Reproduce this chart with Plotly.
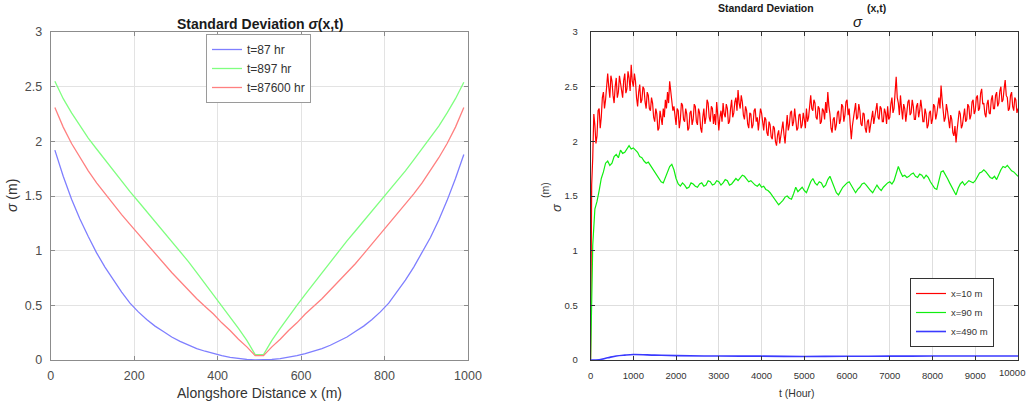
import plotly.graph_objects as go

W, H = 1026, 403

# ---------------- Left panel data: sigma vs alongshore distance ----------------
x_pos = list(range(10, 1000, 20))  # 10 .. 990 m

sig_t87 = [1.92, 1.68, 1.47, 1.29, 1.13, 0.98, 0.85, 0.73, 0.62, 0.52,
           0.44, 0.37, 0.31, 0.26, 0.21, 0.17, 0.135, 0.105, 0.08, 0.058,
           0.04, 0.025, 0.013, 0.005, 0.0,
           0.0, 0.005, 0.013, 0.025, 0.04, 0.058, 0.08, 0.105, 0.135, 0.17,
           0.21, 0.26, 0.31, 0.37, 0.44, 0.52, 0.62, 0.73, 0.85, 0.98,
           1.12, 1.28, 1.46, 1.66, 1.88]

sig_t897 = [2.55, 2.39, 2.26, 2.14, 2.03, 1.93, 1.83, 1.73, 1.63, 1.54,
            1.45, 1.36, 1.27, 1.18, 1.09, 1.00, 0.90, 0.80, 0.70, 0.60,
            0.50, 0.40, 0.29, 0.18, 0.05,
            0.05, 0.18, 0.29, 0.40, 0.50, 0.60, 0.70, 0.80, 0.90, 1.00,
            1.09, 1.18, 1.27, 1.36, 1.45, 1.54, 1.63, 1.73, 1.83, 1.93,
            2.03, 2.14, 2.26, 2.39, 2.54]

sig_t87600 = [2.31, 2.13, 1.98, 1.85, 1.73, 1.62, 1.52, 1.42, 1.33, 1.24,
              1.15, 1.06, 0.97, 0.88, 0.80, 0.72, 0.64, 0.56, 0.49, 0.42,
              0.34, 0.27, 0.19, 0.12, 0.04,
              0.04, 0.12, 0.19, 0.27, 0.34, 0.42, 0.49, 0.56, 0.64, 0.72,
              0.80, 0.88, 0.97, 1.06, 1.15, 1.24, 1.33, 1.42, 1.52, 1.62,
              1.73, 1.85, 1.98, 2.13, 2.31]

left_names = ["t=87 hr", "t=897 hr", "t=87600 hr"]
left_colors = ["#7f7fff", "#80ff80", "#ff8080"]
left_xticks = [0, 200, 400, 600, 800, 1000]
y_ticks = [0, 0.5, 1, 1.5, 2, 2.5, 3]
y_ticklabels = ["0", "0.5", "1", "1.5", "2", "2.5", "3"]

# ---------------- Right panel data: sigma vs time ----------------
# x = 10 m, sampled every 25 hours
sig_x10 = [0.0, 1.60, 1.85, 2.25, 2.15, 1.98, 2.05, 2.28, 2.30, 2.12,
           2.22, 2.40, 2.45, 2.30, 2.38, 2.55, 2.62, 2.50, 2.40, 2.60,
           2.55, 2.42, 2.35, 2.50, 2.58, 2.40, 2.45, 2.60, 2.52, 2.45,
           2.40, 2.56, 2.62, 2.44, 2.48, 2.64, 2.58, 2.46, 2.70, 2.55,
           2.50, 2.62, 2.55, 2.40, 2.32, 2.45, 2.52, 2.35, 2.38, 2.50,
           2.48, 2.36, 2.30, 2.45, 2.42, 2.30, 2.28, 2.40, 2.35, 2.22,
           2.18, 2.30, 2.25, 2.10, 2.12, 2.28, 2.22, 2.15, 2.30, 2.22,
           2.38, 2.30, 2.45, 2.35, 2.55, 2.45, 2.40, 2.28, 2.32, 2.22,
           2.15, 2.30, 2.28, 2.12, 2.20, 2.35, 2.33, 2.20, 2.18, 2.30,
           2.25, 2.10, 2.12, 2.26, 2.28, 2.15, 2.20, 2.34, 2.32, 2.18,
           2.15, 2.30, 2.26, 2.12, 2.08, 2.22, 2.30, 2.16, 2.22, 2.38,
           2.35, 2.22, 2.18, 2.32, 2.30, 2.16, 2.25, 2.15, 2.36, 2.24,
           2.10, 2.22, 2.28, 2.18, 2.35, 2.25, 2.22, 2.34, 2.30, 2.16,
           2.18, 2.30, 2.38, 2.22, 2.26, 2.36, 2.40, 2.28, 2.47, 2.35,
           2.30, 2.42, 2.36, 2.24, 2.20, 2.32, 2.28, 2.16, 2.12, 2.26,
           2.25, 2.12, 2.15, 2.28, 2.30, 2.18, 2.22, 2.10, 2.18, 2.30,
           2.26, 2.16, 2.10, 2.22, 2.20, 2.08, 2.05, 2.18, 2.15, 2.04,
           2.02, 2.14, 2.12, 2.00, 1.96, 2.06, 2.10, 1.98, 2.05, 2.15,
           2.18, 2.06, 1.98, 2.12, 2.24, 2.10, 2.15, 2.26, 2.28, 2.14,
           2.18, 2.30, 2.22, 2.10, 2.12, 2.24, 2.25, 2.12, 2.15, 2.26,
           2.20, 2.12, 2.30, 2.18, 2.22, 2.34, 2.42, 2.30, 2.28, 2.38,
           2.35, 2.22, 2.20, 2.32, 2.30, 2.16, 2.18, 2.30, 2.28, 2.20,
           2.36, 2.26, 2.45, 2.32, 2.25, 2.12, 2.08, 2.20, 2.22, 2.10,
           2.15, 2.26, 2.28, 2.16, 2.20, 2.34, 2.32, 2.18, 2.24, 2.36,
           2.38, 2.24, 2.30, 2.15, 2.02, 2.14, 2.20, 2.30, 2.35, 2.20,
           2.22, 2.34, 2.28, 2.16, 2.14, 2.26, 2.25, 2.12, 2.08, 2.18,
           2.20, 2.08, 2.15, 2.26, 2.28, 2.16, 2.22, 2.32, 2.35, 2.22,
           2.20, 2.32, 2.30, 2.18, 2.18, 2.30, 2.26, 2.16, 2.32, 2.20,
           2.22, 2.34, 2.40, 2.26, 2.30, 2.45, 2.59, 2.40, 2.35, 2.24,
           2.42, 2.30, 2.20, 2.34, 2.30, 2.18, 2.25, 2.36, 2.38, 2.24,
           2.26, 2.38, 2.32, 2.20, 2.20, 2.32, 2.35, 2.22, 2.28, 2.38,
           2.30, 2.18, 2.18, 2.30, 2.25, 2.12, 2.15, 2.26, 2.28, 2.16,
           2.20, 2.34, 2.32, 2.20, 2.25, 2.36, 2.40, 2.30, 2.51, 2.38,
           2.30, 2.18, 2.22, 2.34, 2.28, 2.16, 2.12, 2.24, 2.20, 2.08,
           2.05, 2.14, 1.99, 2.10, 2.18, 2.28, 2.25, 2.12, 2.15, 2.26,
           2.30, 2.18, 2.20, 2.34, 2.32, 2.20, 2.24, 2.36, 2.38, 2.25,
           2.28, 2.40, 2.42, 2.28, 2.30, 2.44, 2.48, 2.34, 2.35, 2.25,
           2.22, 2.34, 2.38, 2.26, 2.25, 2.38, 2.42, 2.30, 2.30, 2.42,
           2.45, 2.32, 2.35, 2.46, 2.50, 2.36, 2.38, 2.48, 2.56, 2.42,
           2.40, 2.28, 2.30, 2.42, 2.45, 2.32, 2.28, 2.40, 2.38, 2.26,
           2.30]
t_red = [25 * i for i in range(len(sig_x10))]

# x = 90 m, sampled every 50 hours
sig_x90 = [0.0, 1.05, 1.38, 1.45, 1.55, 1.66, 1.72, 1.80, 1.82, 1.78,
           1.80, 1.86, 1.88, 1.85, 1.92, 1.89, 1.90, 1.93, 1.96, 1.93,
           1.94, 1.92, 1.90, 1.86, 1.85, 1.82, 1.80, 1.81, 1.78, 1.74,
           1.72, 1.69, 1.66, 1.63, 1.62, 1.67, 1.72, 1.77, 1.79, 1.74,
           1.66, 1.61, 1.59, 1.62, 1.60, 1.57, 1.58, 1.62, 1.61, 1.59,
           1.58, 1.61, 1.62, 1.59, 1.60, 1.64, 1.63, 1.60, 1.61, 1.64,
           1.63, 1.60, 1.62, 1.65, 1.64, 1.60, 1.61, 1.64, 1.66, 1.64,
           1.67, 1.69, 1.68, 1.65, 1.63, 1.64, 1.62, 1.60, 1.59, 1.61,
           1.58, 1.59, 1.56, 1.55, 1.53, 1.50, 1.47, 1.44, 1.42, 1.44,
           1.46, 1.49, 1.50, 1.48, 1.47, 1.52, 1.58, 1.54, 1.56, 1.58,
           1.55, 1.53, 1.58, 1.63, 1.66, 1.62, 1.60, 1.63, 1.62, 1.58,
           1.60, 1.65, 1.68, 1.63, 1.58, 1.53, 1.51, 1.55, 1.58, 1.60,
           1.62, 1.63, 1.60, 1.56, 1.53, 1.56, 1.58, 1.61, 1.62, 1.60,
           1.57, 1.55, 1.53, 1.57, 1.60, 1.57, 1.55, 1.58, 1.60, 1.62,
           1.63, 1.61, 1.64, 1.70, 1.77, 1.72, 1.68, 1.69, 1.67, 1.68,
           1.70, 1.71, 1.68, 1.67, 1.70, 1.69, 1.66, 1.69, 1.67, 1.63,
           1.60, 1.57, 1.56, 1.63, 1.72, 1.73, 1.70, 1.66, 1.62, 1.58,
           1.54, 1.51, 1.57, 1.61, 1.63, 1.60, 1.62, 1.64, 1.63, 1.62,
           1.64, 1.68, 1.71, 1.72, 1.74, 1.72, 1.69, 1.67, 1.66, 1.68,
           1.65, 1.70, 1.74, 1.77, 1.76, 1.78, 1.75, 1.73, 1.72, 1.70,
           1.68]
t_green = [50 * i for i in range(len(sig_x90))]

# x = 490 m
t_blue = [0, 200, 400, 600, 800, 1000, 1500, 2000, 3000, 4000,
          5000, 6000, 7000, 8000, 9000, 10000]
sig_x490 = [0.0, 0.003, 0.02, 0.037, 0.045, 0.05, 0.045, 0.04, 0.036, 0.035,
            0.032, 0.034, 0.035, 0.036, 0.036, 0.037]

right_xticks = list(range(0, 10001, 1000))
right_xticklabels = [str(v) for v in right_xticks[:-1]] + [""]

FONT = "Liberation Sans, Arial, sans-serif"


def fx(sx):
    return sx / W


def fy(sy):
    return 1 - sy / H


fig = go.Figure()

for name, ys, col in zip(left_names, [sig_t87, sig_t897, sig_t87600], left_colors):
    fig.add_trace(go.Scatter(x=x_pos, y=ys, mode="lines", name=name,
                             line=dict(color=col, width=1.3),
                             xaxis="x", yaxis="y", legend="legend"))

fig.add_trace(go.Scatter(x=t_red, y=sig_x10, mode="lines", name="x=10 m",
                         line=dict(color="#ff0000", width=1.2),
                         xaxis="x2", yaxis="y2", legend="legend2"))
fig.add_trace(go.Scatter(x=t_green, y=sig_x90, mode="lines", name="x=90 m",
                         line=dict(color="#10ee10", width=1.2),
                         xaxis="x2", yaxis="y2", legend="legend2"))
fig.add_trace(go.Scatter(x=t_blue, y=sig_x490, mode="lines", name="x=490 m",
                         line=dict(color="#3a3aff", width=1.6, shape="spline"),
                         xaxis="x2", yaxis="y2", legend="legend2"))

common_axis = dict(showgrid=True, zeroline=False, showline=True, mirror="ticks",
                   ticks="inside", ticklen=4, automargin=False, ticklabeloverflow="allow")

fig.update_layout(
    width=W, height=H,
    margin=dict(l=0, r=0, t=0, b=0, autoexpand=False),
    paper_bgcolor="white", plot_bgcolor="white",
    font=dict(family=FONT, color="#333333"),
    xaxis=dict(domain=[fx(50.7), fx(468)], range=[0, 1000], tickvals=left_xticks,
               gridcolor="#e3e3e3", linecolor="#8c8c8c", tickcolor="#8c8c8c",
               tickfont=dict(size=12.5, color="#4d4d4d"), ticklabelstandoff=4,
               anchor="y", **common_axis),
    yaxis=dict(domain=[fy(360), fy(32)], range=[0, 3], tickvals=y_ticks, ticktext=y_ticklabels,
               gridcolor="#e3e3e3", linecolor="#8c8c8c", tickcolor="#8c8c8c",
               tickfont=dict(size=12.5, color="#4d4d4d"), ticklabelstandoff=5,
               anchor="x", **common_axis),
    xaxis2=dict(domain=[fx(590.6), fx(1018)], range=[0, 10000],
                tickvals=right_xticks, ticktext=right_xticklabels,
                gridcolor="#dedede", linecolor="#333333", tickcolor="#333333",
                tickfont=dict(size=9.5, color="#333333"), ticklabelstandoff=7,
                anchor="y2", **common_axis),
    yaxis2=dict(domain=[fy(360), fy(32)], range=[0, 3], tickvals=y_ticks, ticktext=y_ticklabels,
                gridcolor="#dedede", linecolor="#333333", tickcolor="#333333",
                tickfont=dict(size=9.5, color="#333333"), ticklabelstandoff=10,
                anchor="x2", **common_axis),
    legend=dict(x=fx(206), y=fy(34), xanchor="left", yanchor="top",
                bgcolor="white", bordercolor="#9a9a9a", borderwidth=1,
                font=dict(size=12, color="#333333", family=FONT),
                tracegroupgap=0, itemwidth=30),
    legend2=dict(x=fx(910), y=fy(278), xanchor="left", yanchor="top",
                 bgcolor="white", bordercolor="#333333", borderwidth=1,
                 font=dict(size=9.5, color="#333333", family=FONT),
                 tracegroupgap=0, itemwidth=30),
    showlegend=True,
)

ann = []


def px(xp, yp, text, size, color="#1a1a1a", **kw):
    ann.append(dict(x=fx(xp), y=fy(yp), xref="paper", yref="paper", text=text,
                    showarrow=False, xanchor="center", yanchor="middle",
                    font=dict(size=size, family=FONT, color=color), **kw))


# left panel texts
px(259.5, 24, "<b>Standard Deviation <i>σ</i>(x,t)</b>", 14)
px(259.5, 393, "Alongshore Distance x (m)", 14, color="#333333")
px(12, 196, "<i>σ</i> (m)", 14, color="#333333", textangle=-90)
# right panel texts
px(766, 8, "<b>Standard Deviation</b>", 10.5)
px(876, 8, "<b>(x,t)</b>", 10.5)
px(858, 22, "<i>σ</i>", 15)
px(797, 393, "t (Hour)", 10.5, color="#333333")
px(545, 190, "(m)", 10.5, color="#333333", textangle=-90)
px(556, 208, "<i>σ</i>", 13, color="#333333", textangle=-90)
px(1012, 372, str(right_xticks[-1]), 9.5, color="#333333")

fig.update_layout(annotations=ann)

# remove the default 8px page margin so the figure fills the window exactly
fig.write_html("out.html",
               config={"displayModeBar": False},
               post_script="document.body.style.margin='0';document.body.style.padding='0';"
                           "document.body.style.overflow='hidden';")
